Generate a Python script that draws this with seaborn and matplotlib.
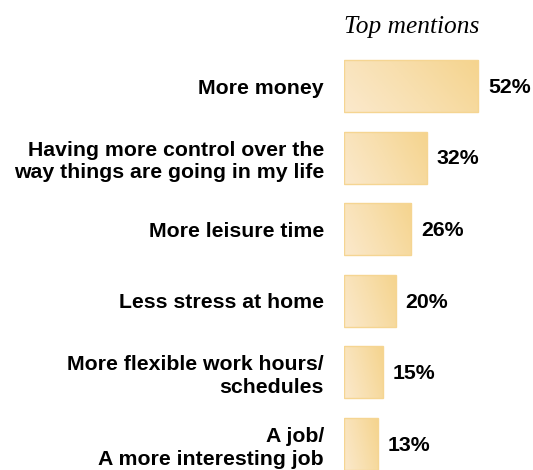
import numpy as np
import pandas as pd
import matplotlib
matplotlib.use("Agg")
import matplotlib.pyplot as plt
from matplotlib.colors import LinearSegmentedColormap
import seaborn as sns

# Datos del gráfico
categories = [
    "More money",
    "Having more control over the\nway things are going in my life",
    "More leisure time",
    "Less stress at home",
    "More flexible work hours/\nschedules",
    "A job/\nA more interesting job",
]
values = [52, 32, 26, 20, 15, 13]
value_labels = ["52%", "32%", "26%", "20%", "15%", "13%"]
title_text = "Top mentions"

W, H = 533, 470
DPI = 100

sns.set_theme(style="white")
plt.rcParams["font.family"] = ["Liberation Sans", "DejaVu Sans"]

fig = plt.figure(figsize=(W / DPI, H / DPI), dpi=DPI)
fig.patch.set_facecolor("white")

# ejes en pixeles: barra empieza en x=344, pasos de ~71.6 px
left_px, top_px = 344, 50.2
ax = fig.add_axes([left_px / W, 0, (W - left_px) / W, (H - top_px) / H])

df = pd.DataFrame({"cat": categories, "val": values})
sns.barplot(data=df, x="val", y="cat", orient="h", color="#F8DDA8",
            width=0.726, edgecolor="#F5D592", linewidth=1.0, ax=ax)

# relleno degradado dentro de cada barra
cmap = LinearSegmentedColormap.from_list("crema", ["#FBE9CC", "#F8DFAE", "#F5D48E"])
gx, gy = np.meshgrid(np.linspace(0, 1, 64), np.linspace(0, 1, 32))
for bar in ax.patches:
    x0, y0 = bar.get_x(), bar.get_y()
    w, h = bar.get_width(), bar.get_height()
    grad = 0.75 * gx + 0.25 * (1 - gy)
    im = ax.imshow(grad, cmap=cmap, aspect="auto", extent=[x0, x0 + w, y0 + h, y0],
                   origin="upper", zorder=bar.get_zorder() + 0.1)
    im.set_clip_path(bar)
    bar.set_zorder(bar.get_zorder() + 0.2)
    bar.set_facecolor("none")

ax.set_xlim(0, (W - left_px) / 2.58)
ax.set_ylim(5.363, -0.5)

for i, (v, lab) in enumerate(zip(values, value_labels)):
    ax.annotate(lab, xy=(v, i), xytext=(7.2, -1), textcoords="offset points",
                ha="left", va="center", fontsize=15.3, fontweight="bold", color="black")

ax.set_xlabel("")
ax.set_ylabel("")
ax.set_xticks([])
ax.tick_params(axis="y", length=0, pad=14.4)
for t in ax.get_yticklabels():
    t.set_fontsize(15.3)
    t.set_fontweight("bold")
    t.set_color("black")
    t.set_linespacing(1.25)
sns.despine(ax=ax, left=True, bottom=True)
ax.set_facecolor("none")

fig.text(left_px / W, 1 - 27 / H, title_text, ha="left", va="center",
         fontsize=18.3, style="italic", family=["Liberation Serif", "DejaVu Serif"],
         color="black")

fig.savefig("out.png", dpi=DPI, facecolor="white")
